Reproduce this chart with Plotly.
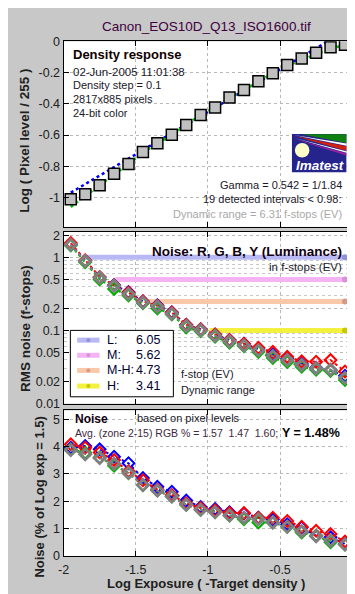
import plotly.graph_objects as go

# ---------------- data ----------------
log_exposure = [-1.95, -1.85, -1.75, -1.65, -1.55, -1.45, -1.35, -1.25, -1.15, -1.05,
                -0.95, -0.85, -0.75, -0.65, -0.55, -0.45, -0.35, -0.25, -0.15, -0.05]

density_log_pixel = [-1.010, -0.979, -0.921, -0.848, -0.785, -0.708, -0.652, -0.598, -0.535, -0.471,
                     -0.423, -0.360, -0.312, -0.256, -0.204, -0.152, -0.110, -0.073, -0.038, -0.021]
green_curve = [-1.060, -0.990, -0.925, -0.852, -0.787, -0.712, -0.654, -0.598, -0.535, -0.471,
               -0.423, -0.360, -0.312, -0.256, -0.204, -0.156, -0.117, -0.082, -0.047, -0.022]
fit_x = [-1.95, -0.17]
fit_y = [-0.968, 0.0]

noise_fs_red = [1.57, 0.91, 0.54, 0.415, 0.33, 0.25, 0.218, 0.176, 0.12, 0.104,
                0.088, 0.074, 0.066, 0.058, 0.051, 0.0437, 0.038, 0.0374, 0.0394, 0.0275]
noise_fs_green = [1.45, 0.86, 0.50, 0.37, 0.30, 0.235, 0.20, 0.165, 0.11, 0.098,
                  0.082, 0.068, 0.061, 0.051, 0.042, 0.037, 0.032, 0.029, 0.028, 0.021]
noise_fs_blue = [1.50, 0.90, 0.535, 0.42, 0.335, 0.25, 0.222, 0.178, 0.12, 0.104,
                 0.088, 0.074, 0.066, 0.056, 0.047, 0.041, 0.035, 0.031, 0.0285, 0.024]
noise_fs_y = [1.49, 0.89, 0.525, 0.41, 0.315, 0.241, 0.213, 0.17, 0.115, 0.101,
              0.085, 0.071, 0.0625, 0.0535, 0.0446, 0.0394, 0.0338, 0.0305, 0.029, 0.0224]

noise_pct_red = [4.08, 3.96, 3.78, 3.51, 3.10, 2.77, 2.43, 2.23, 1.93, 1.75,
                 1.67, 1.57, 1.57, 1.40, 1.40, 1.28, 1.07, 0.92, 0.80, 0.53]
noise_pct_green = [3.90, 3.78, 3.60, 3.30, 3.03, 2.59, 2.39, 2.17, 1.87, 1.69,
                   1.63, 1.48, 1.34, 1.22, 1.22, 1.07, 0.86, 0.74, 0.50, 0.42]
noise_pct_blue = [3.96, 4.02, 3.90, 3.63, 3.39, 2.85, 2.53, 2.35, 2.03, 1.79,
                  1.72, 1.60, 1.55, 1.40, 1.34, 1.16, 1.04, 0.74, 0.68, 0.44]
noise_pct_y = [3.87, 3.72, 3.58, 3.37, 3.03, 2.59, 2.39, 2.17, 1.87, 1.69,
               1.60, 1.48, 1.40, 1.34, 1.22, 1.07, 0.90, 0.72, 0.56, 0.42]

band_labels = ["L:", "M:", "M-H:", "H:"]
band_values = ["6.05", "5.62", "4.73", "3.41"]
band_levels = [1.0, 0.5, 0.25, 0.1]
band_start = [-1.87, -1.64, -1.42, -0.99]
band_end = -0.05

x_ticks = [-2, -1.5, -1, -0.5, 0]
x_ticktext = ["-2", "-1.5", "-1", "-0.5", "0"]
y1_ticks = [0, -0.2, -0.4, -0.6, -0.8, -1]
y1_ticktext = ["0", "-0.2", "-0.4", "-0.6", "-0.8", "-1"]
y2_ticks = [2, 1, 0.5, 0.2, 0.1, 0.05, 0.02, 0.01]
y2_ticktext = ["2", "1", "0.5", "0.2", "0.1", "0.05", "0.02", "0.01"]
y2_minor = [0.03, 0.04, 0.06, 0.07, 0.08, 0.09, 0.3, 0.4, 0.6, 0.7, 0.8, 0.9]
y3_ticks = [0, 1, 2, 3, 4, 5]

# ---------------- styling ----------------
W, H = 355, 594
FONT = "Liberation Sans, Arial, sans-serif"
BG = "#c8c8c8"
band_colors = ["#b8b8f4", "#f4b4f4", "#f8c8a8", "#f4f040"]
band_dot_colors = ["#9090d8", "#d890d8", "#d89888", "#c8c800"]
TXT = "#201828"


def X(px):
    return px / W


def Y(py):
    return 1 - py / H


fig = go.Figure()

# ---- top panel: density response ----
fig.add_trace(go.Scatter(x=fit_x, y=fit_y, mode="lines", xaxis="x", yaxis="y",
                         line=dict(color="#0000ff", width=2.5, dash="dot"), showlegend=False))
fig.add_trace(go.Scatter(x=log_exposure, y=green_curve, mode="lines", xaxis="x", yaxis="y",
                         line=dict(color="#00c000", width=2.5, dash="dot"), showlegend=False))
fig.add_trace(go.Scatter(x=log_exposure, y=density_log_pixel, mode="markers", xaxis="x", yaxis="y",
                         marker=dict(symbol="square", size=11, color="#c0c0c0",
                                     line=dict(color="#000000", width=1.5)),
                         showlegend=False))

# ---- middle panel: bands ----
for lvl, st, c, dc in zip(band_levels, band_start, band_colors, band_dot_colors):
    fig.add_trace(go.Scatter(x=[st, band_end], y=[lvl, lvl], mode="lines", xaxis="x2", yaxis="y2",
                             line=dict(color=c, width=5), showlegend=False))
    fig.add_trace(go.Scatter(x=[band_end], y=[lvl], mode="markers", xaxis="x2", yaxis="y2",
                             marker=dict(color=dc, size=6), showlegend=False))


def noise_series(yvals, color, xa, ya, lw=2.0, msize=9):
    fig.add_trace(go.Scatter(x=log_exposure, y=yvals, mode="lines+markers", xaxis=xa, yaxis=ya,
                             line=dict(color=color, width=2, dash="dot"),
                             marker=dict(symbol="diamond-open", size=msize,
                                         line=dict(color=color, width=lw)),
                             showlegend=False))


for xa, ya, series in [("x2", "y2", [noise_fs_blue, noise_fs_green, noise_fs_red, noise_fs_y]),
                       ("x3", "y3", [noise_pct_blue, noise_pct_green, noise_pct_red, noise_pct_y])]:
    noise_series(series[0], "#0000ff", xa, ya)
    noise_series(series[1], "#00b000", xa, ya)
    noise_series(series[2], "#ff0000", xa, ya)
    noise_series(series[3], "#808080", xa, ya, lw=2.8, msize=8.5)

# ---------------- axes ----------------
xdom = [X(51), X(348)]
axis_common = dict(showline=True, linecolor="#000000", linewidth=1, mirror="ticks",
                   ticks="inside", ticklen=5, tickcolor="#000000",
                   showgrid=True, gridcolor="#b8b8b8", griddash="3px,3px", gridwidth=1,
                   zeroline=False, tickfont=dict(family=FONT, size=12.5, color="#202020"))

layout_axes = {}
layout_axes["xaxis"] = dict(axis_common, domain=xdom, range=[-2, 0], anchor="y",
                            tickvals=x_ticks, showticklabels=False)
layout_axes["xaxis2"] = dict(axis_common, domain=xdom, range=[-2, 0], anchor="y2",
                             tickvals=x_ticks, showticklabels=False)
layout_axes["xaxis3"] = dict(axis_common, domain=xdom, range=[-2, 0], anchor="y3",
                             tickvals=x_ticks, ticktext=x_ticktext, ticklabelstandoff=2)
layout_axes["yaxis"] = dict(axis_common, domain=[Y(217), Y(27)], range=[-1.1875, 0], anchor="x",
                            tickvals=y1_ticks, ticktext=y1_ticktext)
layout_axes["yaxis2"] = dict(axis_common, domain=[Y(398), Y(222)], type="log", range=[-2, 0.35],
                             anchor="x2", tickvals=y2_ticks, ticktext=y2_ticktext,
                             minor=dict(tickvals=y2_minor, showgrid=True, gridcolor="#c8c8c8",
                                        griddash="3px,3px", ticks=""))
layout_axes["yaxis3"] = dict(axis_common, domain=[Y(554), Y(405)], range=[0, 5.32], anchor="x3",
                             tickvals=y3_ticks)

# ---------------- annotations ----------------
ann = []


def text(px, py, s, size=11, color=TXT, bold=False, xanchor="left", angle=0, italic=False):
    if bold:
        s = "<b>" + s + "</b>"
    if italic:
        s = "<i>" + s + "</i>"
    ann.append(dict(x=X(px), y=Y(py), xref="paper", yref="paper", text=s, showarrow=False,
                    xanchor=xanchor, yanchor="middle", textangle=angle,
                    font=dict(family=FONT, size=size, color=color)))


text(198, 12, "Canon_EOS10D_Q13_ISO1600.tif", size=13.5, color="#400040", xanchor="center")

# top panel
text(59, 40, "Density response", size=13, color="#100000", bold=True)
text(59, 58, "02-Jun-2005 11:01:38", size=11.5)
text(59, 72, "Density step = 0.1")
text(59, 86, "2817x885 pixels")
text(59, 100, "24-bit color")
text(340, 174, "Gamma = 0.542 = 1/1.84", xanchor="right")
text(340, 188, "19 detected intervals < 0.98:", xanchor="right")
text(340, 204, "Dynamic range = 6.31 f-stops (EV)", color="#a8a8a8", xanchor="right")

# middle panel
text(340, 242, "Noise: R, G, B, Y (Luminance)", size=13.5, color="#100010", bold=True, xanchor="right")
text(340, 258, "in f-stops (EV)", size=11.5, xanchor="right")
text(170, 368, "f-stop (EV)", size=11)
text(170, 384, "Dynamic range", size=11)

legend_rows = [333, 348.5, 364, 380]
for lab, val, py in zip(band_labels, band_values, legend_rows):
    text(94, py, lab, size=12.5, color="#000030")
    text(152, py, val, size=12.5, color="#000030", xanchor="right")

# bottom panel
text(61, 414, "Noise", size=12, color="#100010", bold=True)
text(125, 413, "based on pixel levels", size=11)
text(61, 428.5, "Avg. (zone 2-15) RGB % = 1.57  1.47  1.60;", size=10.5, color="#402840")
text(338, 428.5, "Y = 1.48%", size=12.5, color="#000000", bold=True, xanchor="right")

# axis titles
text(198, 582, "Log Exposure ( -Target density )", size=13, color="#202020", bold=True, xanchor="center")
text(11, 129, "Log ( Pixel level / 255 )", size=13.5, color="#202020", bold=True, xanchor="center", angle=-90)
text(12, 321, "RMS noise (f-stops)", size=13.5, color="#202020", bold=True, xanchor="center", angle=-90)
text(26, 494, "Noise (% of Log exp = 1.5)", size=13, color="#202020", bold=True, xanchor="center", angle=-90)

# Imatest logo text
text(315, 154, "Imatest", size=13.5, color="#ffffff", bold=True, italic=True, xanchor="center")

# ---------------- shapes (legend box + logo) ----------------
shapes = []
shapes.append(dict(type="rect", xref="paper", yref="paper", x0=X(58), x1=X(164), y0=Y(391), y1=Y(323),
                   fillcolor="#ffffff", line=dict(color="#000000", width=1), layer="above"))
for c, dc, py in zip(band_colors, band_dot_colors, legend_rows):
    shapes.append(dict(type="line", xref="paper", yref="paper", x0=X(65), x1=X(88), y0=Y(py), y1=Y(py),
                       line=dict(color=c, width=5), layer="above"))
    shapes.append(dict(type="circle", xref="paper", yref="paper", x0=X(74.5), x1=X(78.5),
                       y0=Y(py + 2), y1=Y(py - 2), fillcolor=dc, line=dict(width=0), layer="above"))


def path(points):
    s = "M " + " L ".join(f"{X(a):.5f},{Y(b):.5f}" for a, b in points) + " Z"
    return s


shapes.append(dict(type="rect", xref="paper", yref="paper", x0=X(286), x1=X(342), y0=Y(161), y1=Y(122),
                   fillcolor="#24248c", line=dict(width=0), layer="above"))
shapes.append(dict(type="path", xref="paper", yref="paper", path=path([(296, 122), (342, 122), (342, 131)]),
                   fillcolor="#108010", line=dict(width=0), layer="above"))
shapes.append(dict(type="path", xref="paper", yref="paper", path=path([(288, 123), (342, 131.5), (342, 134)]),
                   fillcolor="#ffffff", line=dict(width=0), layer="above"))
shapes.append(dict(type="path", xref="paper", yref="paper", path=path([(288, 124), (342, 134.5), (342, 139)]),
                   fillcolor="#d02010", line=dict(width=0), layer="above"))
shapes.append(dict(type="path", xref="paper", yref="paper", path=path([(288, 126), (342, 139.5), (342, 141)]),
                   fillcolor="#ffffff", line=dict(width=0), layer="above"))
shapes.append(dict(type="path", xref="paper", yref="paper", path=path([(288, 127), (342, 141.5), (342, 144)]),
                   fillcolor="#a020a0", line=dict(width=0), layer="above"))
shapes.append(dict(type="circle", xref="paper", yref="paper", x0=X(289), x1=X(304), y0=Y(146), y1=Y(131),
                   fillcolor="#ffffc8", line=dict(width=0), layer="above"))

fig.update_layout(
    width=W, height=H,
    margin=dict(l=0, r=0, t=0, b=0),
    paper_bgcolor=BG, plot_bgcolor="#ffffff",
    showlegend=False,
    annotations=ann, shapes=shapes,
    **layout_axes,
)

fig.write_html("out.html")
